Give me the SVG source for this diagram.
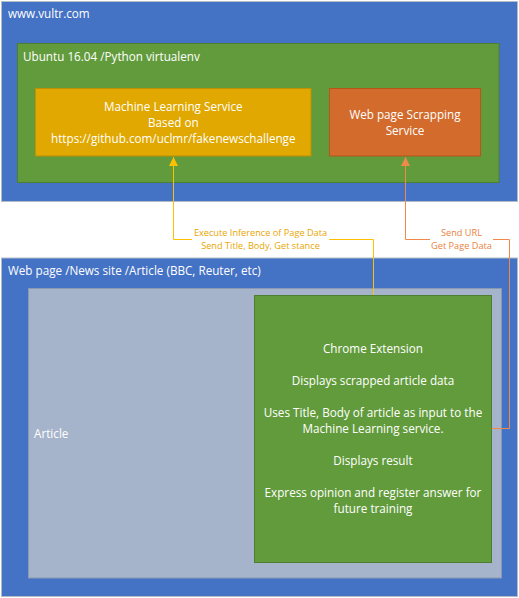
<svg xmlns="http://www.w3.org/2000/svg" width="519" height="598" viewBox="0 0 519 598">
<defs>
<style>
.t{font-family:"Open Sans","Liberation Sans",sans-serif;font-size:11.7px;fill:#ffffff}
.c{text-anchor:middle}
.lbl{font-family:"Open Sans","Liberation Sans",sans-serif;font-size:9.2px;text-anchor:middle}
.blue{fill:#4472C4;stroke:#B4BCC8;stroke-width:1}
.green{fill:#629B3C;stroke:#4E7F2E;stroke-width:1}
.conn{fill:none;stroke-width:1}
</style>
<marker id="ay" markerWidth="10" markerHeight="10" refX="9" refY="4.5" orient="auto" markerUnits="userSpaceOnUse"><path d="M0,0 L9,4.5 L0,9 Z" fill="#FFC000"/></marker>
<marker id="ao" markerWidth="10" markerHeight="10" refX="9" refY="4.5" orient="auto" markerUnits="userSpaceOnUse"><path d="M0,0 L9,4.5 L0,9 Z" fill="#F08A4B"/></marker>
</defs>
<rect width="519" height="598" fill="#ffffff"/>
<g id="vultr">
<rect class="blue" x="1.5" y="1.5" width="516" height="200"/>
<text class="t" x="8" y="18">www.vultr.com</text>
</g>
<g id="ubuntu">
<rect class="green" x="17.5" y="43.5" width="481.5" height="139"/>
<text class="t" x="23" y="61">Ubuntu 16.04 /Python virtualenv</text>
</g>
<g id="ml-service">
<rect x="35.5" y="88.5" width="275.5" height="67.5" fill="#E0A800" stroke="#BF9000"/>
<text class="t c" x="173.3" y="111">Machine Learning Service</text>
<text class="t c" x="173.3" y="127">Based on</text>
<text class="t c" x="173.3" y="142.5">https://github.com/uclmr/fakenewschallenge</text>
</g>
<g id="scraping-service">
<rect x="329.5" y="88.5" width="151" height="67.5" fill="#D26B2C" stroke="#B5561B"/>
<text class="t c" x="405" y="119">Web page Scrapping</text>
<text class="t c" x="405" y="135">Service</text>
</g>
<g id="webpage">
<rect class="blue" x="1.5" y="258" width="516" height="338.5"/>
<text class="t" x="8" y="275">Web page /News site /Article (BBC, Reuter, etc)</text>
</g>
<g id="article">
<rect x="28.5" y="288.5" width="473" height="289.5" fill="#A6B4CB" stroke="#8A9AB4"/>
<text class="t" x="34" y="438">Article</text>
</g>
<g id="chrome-extension">
<rect class="green" x="254.5" y="295.5" width="237" height="267"/>
<text class="t c" x="373" y="353">Chrome Extension</text>
<text class="t c" x="373" y="385">Displays scrapped article data</text>
<text class="t c" x="373" y="417">Uses Title, Body of article as input to the</text>
<text class="t c" x="373" y="433">Machine Learning service.</text>
<text class="t c" x="373" y="465">Displays result</text>
<text class="t c" x="373" y="497">Express opinion and register answer for</text>
<text class="t c" x="373" y="513">future training</text>
</g>
<g id="connectors">
<path class="conn" d="M373.5,295 V239.5 H173.5 V157" stroke="#FFC000" marker-end="url(#ay)"/>
<path class="conn" d="M491.5,428.5 H509.5 V239.5 H405.5 V157" stroke="#F08A4B" marker-end="url(#ao)"/>
<rect x="192" y="226" width="137" height="24" fill="#ffffff"/>
<text class="lbl" x="260.5" y="235.5" fill="#E8A600">Execute Inference of Page Data</text>
<text class="lbl" x="260.5" y="248.5" fill="#E8A600">Send Title, Body, Get stance</text>
<rect x="430" y="226" width="63" height="24" fill="#ffffff"/>
<text class="lbl" x="461.5" y="235.5" fill="#E9823F">Send URL</text>
<text class="lbl" x="461.5" y="248.5" fill="#E9823F">Get Page Data</text>
</g>
</svg>
